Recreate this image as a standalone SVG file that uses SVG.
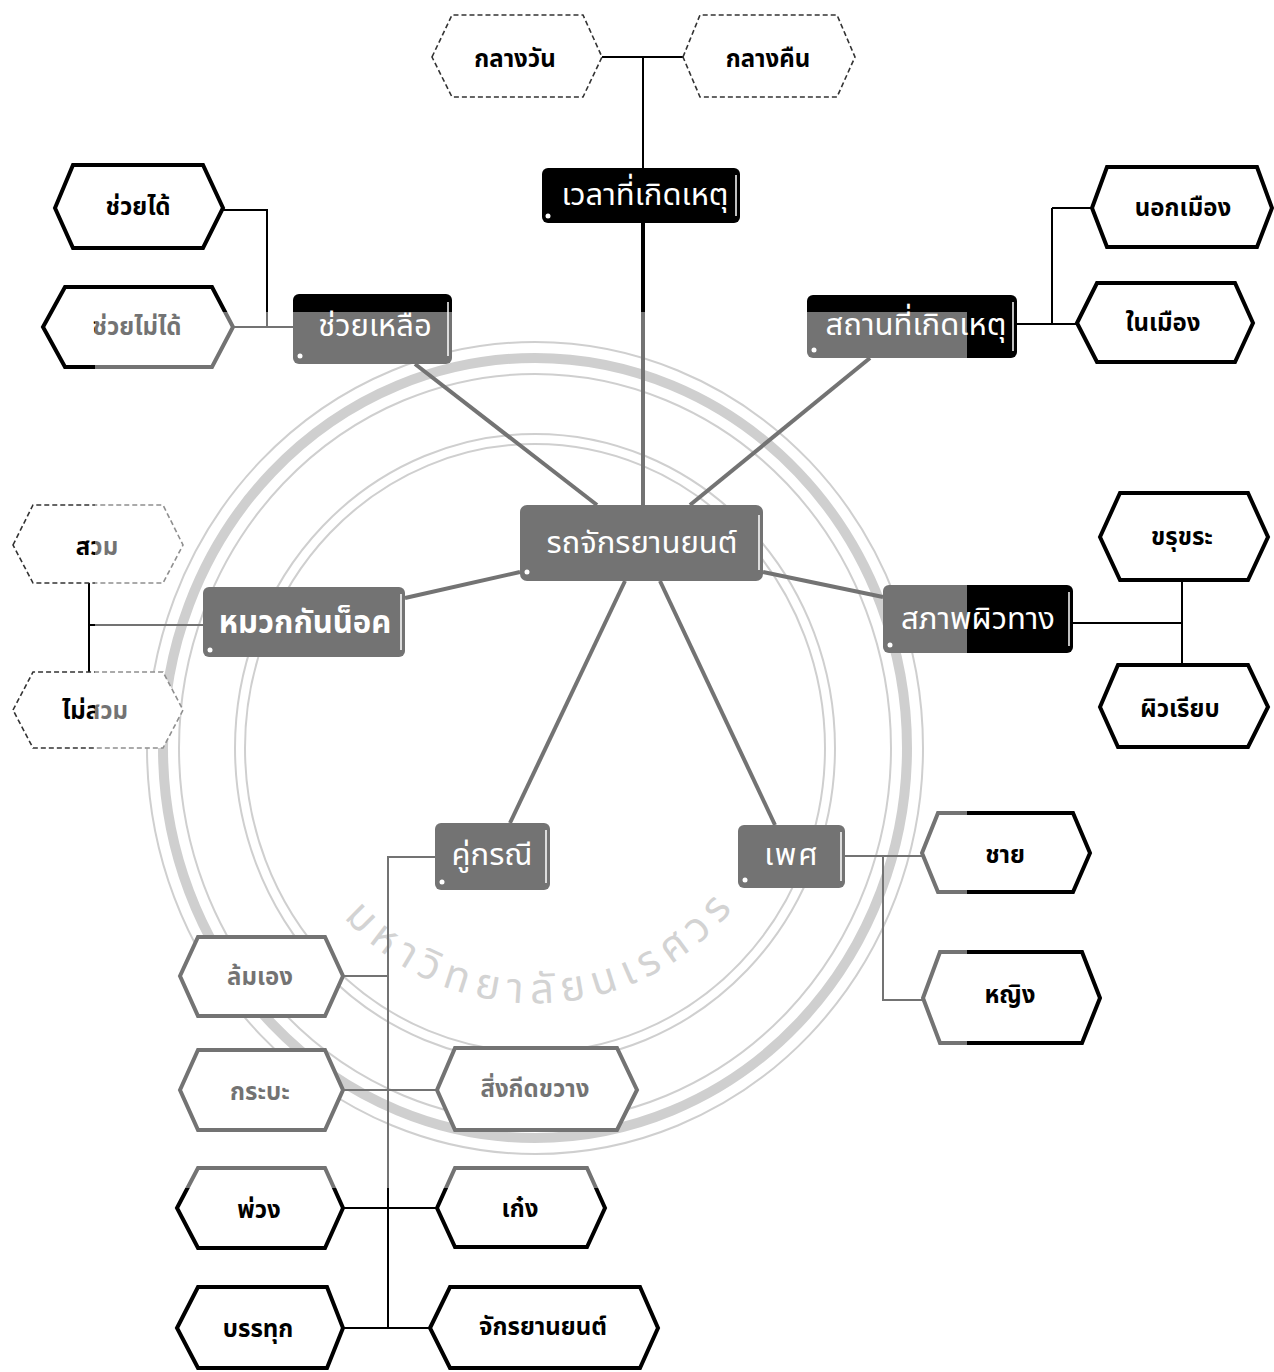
<svg xmlns="http://www.w3.org/2000/svg" width="1274" height="1372" viewBox="0 0 1274 1372">
<defs>
<style>
.leaf polygon{fill:#fff;stroke:#000;stroke-width:4;stroke-linejoin:miter}
.leaf.faint polygon{stroke:#333;stroke-width:1.6;stroke-dasharray:5 3}
.leaf text{font-family:'Noto Sans Thai','Noto Sans',sans-serif;font-weight:bold;font-size:24px;fill:#000;text-anchor:middle;dominant-baseline:central}
.branch rect.box{fill:#000}
.branch text{font-family:'Noto Sans Thai','Noto Sans',sans-serif;font-size:31px;fill:#fff;text-anchor:middle;dominant-baseline:central}
.branch .hl{stroke:#fff;stroke-width:1.5}
.branch .dot{fill:#fff}
.thick{stroke:#000;stroke-width:4;fill:none}
.thin{stroke:#000;stroke-width:2;fill:none}
.seal{fill:none;stroke:#a8a8a8}
.sealtext{font-family:'Noto Sans Thai','Noto Sans',sans-serif;font-size:42px;fill:#b0b0b0;letter-spacing:8px}
</style>
<path id="sealArc" d="M289,816 A255,255 0 0,0 785,798"/>
</defs>
<rect width="1274" height="1372" fill="#fff"/>

<g id="seal">
<ellipse class="seal" cx="535" cy="748" rx="388" ry="406" stroke-width="2"/>
<ellipse class="seal" cx="535" cy="748" rx="372" ry="390" stroke-width="10"/>
<ellipse class="seal" cx="535" cy="748" rx="356" ry="374" stroke-width="2"/>
<ellipse class="seal" cx="535" cy="748" rx="300" ry="314" stroke-width="2"/>
<ellipse class="seal" cx="535" cy="748" rx="290" ry="304" stroke-width="2"/>
<text class="sealtext"><textPath href="#sealArc" startOffset="50%" text-anchor="middle">มหาวิทยาลัยนเรศวร</textPath></text>
</g>

<g id="connectors">
<line class="thick" x1="643" y1="223" x2="643" y2="505"/>
<line class="thick" x1="415" y1="364" x2="597" y2="505"/>
<line class="thick" x1="870" y1="358" x2="690" y2="505"/>
<line class="thick" x1="405" y1="598" x2="520" y2="572"/>
<line class="thick" x1="763" y1="572" x2="883" y2="597"/>
<line class="thick" x1="625" y1="581" x2="510" y2="823"/>
<line class="thick" x1="660" y1="581" x2="775" y2="825"/>
<path class="thin" d="M602,57 H683 M643,57 V168"/>
<path class="thin" d="M223,210 H267 V327 M233,327 H293"/>
<path class="thin" d="M1017,324 H1077 M1052,208 V324 M1052,208 H1092"/>
<path class="thin" d="M89,583 V672 M89,625 H203"/>
<path class="thin" d="M1073,623 H1182 M1182,580 V665"/>
<path class="thin" d="M435,857 H388 V1328 M343,976 H388 M343,1090 H437 M343,1208 H437 M343,1328 H430"/>
<path class="thin" d="M845,856 H922 M883,856 V1000 H923"/>
</g>

<g id="n-center" class="branch">
<rect class="box" x="520" y="505" width="243" height="76" rx="7"/>
<line class="hl" x1="759" y1="515" x2="759" y2="570"/>
<circle class="dot" cx="527" cy="572" r="2.5"/>
<text x="642" y="543" font-size="34">รถจักรยานยนต์</text>
</g>
<g id="n-time" class="branch">
<rect class="box" x="542" y="168" width="198" height="55" rx="6"/>
<line class="hl" x1="736" y1="175" x2="736" y2="216"/>
<circle class="dot" cx="548" cy="216" r="2.5"/>
<text x="645" y="195" font-size="34">เวลาที่เกิดเหตุ</text>
</g>
<g id="n-help" class="branch">
<rect class="box" x="293" y="294" width="159" height="70" rx="6"/>
<line class="hl" x1="448" y1="302" x2="448" y2="356"/>
<circle class="dot" cx="300" cy="356" r="2.5"/>
<text x="375" y="326" font-size="34">ช่วยเหลือ</text>
</g>
<g id="n-place" class="branch">
<rect class="box" x="807" y="295" width="210" height="63" rx="6"/>
<line class="hl" x1="1013" y1="302" x2="1013" y2="351"/>
<circle class="dot" cx="814" cy="350" r="2.5"/>
<text x="916" y="325" font-size="34">สถานที่เกิดเหตุ</text>
</g>
<g id="n-helmet" class="branch">
<rect class="box" x="203" y="587" width="202" height="70" rx="6"/>
<line class="hl" x1="401" y1="594" x2="401" y2="650"/>
<circle class="dot" cx="210" cy="650" r="2.5"/>
<text x="305" y="623" font-size="27" font-weight="bold">หมวกกันน็อค</text>
</g>
<g id="n-road" class="branch">
<rect class="box" x="883" y="585" width="190" height="68" rx="6"/>
<line class="hl" x1="1069" y1="592" x2="1069" y2="646"/>
<circle class="dot" cx="890" cy="645" r="2.5"/>
<text x="978" y="619" font-size="32">สภาพผิวทาง</text>
</g>
<g id="n-party" class="branch">
<rect class="box" x="435" y="823" width="115" height="67" rx="6"/>
<line class="hl" x1="546" y1="830" x2="546" y2="883"/>
<circle class="dot" cx="442" cy="882" r="2.5"/>
<text x="492" y="855" font-size="29">คู่กรณี</text>
</g>
<g id="n-sex" class="branch">
<rect class="box" x="738" y="825" width="107" height="63" rx="6"/>
<line class="hl" x1="841" y1="832" x2="841" y2="881"/>
<circle class="dot" cx="745" cy="880" r="2.5"/>
<text x="792" y="855" font-size="32" letter-spacing="2">เพศ</text>
</g>

<g id="l-day" class="leaf faint"><polygon points="432,57 452,15 583,15 602,57 583,97 452,97"/><text x="515" y="60">กลางวัน</text></g>
<g id="l-night" class="leaf faint"><polygon points="683,57 700,15 837,15 855,57 837,97 700,97"/><text x="768" y="60">กลางคืน</text></g>
<g id="l-can" class="leaf"><polygon points="55,208 73,165 203,165 223,208 203,248 73,248"/><text x="138" y="208">ช่วยได้</text></g>
<g id="l-cannot" class="leaf"><polygon points="43,327 65,287 212,287 233,327 212,367 65,367"/><text x="137" y="328">ช่วยไม่ได้</text></g>
<g id="l-out" class="leaf"><polygon points="1092,208 1107,167 1257,167 1272,208 1257,247 1107,247"/><text x="1183" y="209">นอกเมือง</text></g>
<g id="l-in" class="leaf"><polygon points="1077,323 1097,283 1235,283 1253,323 1235,362 1097,362"/><text x="1163" y="324">ในเมือง</text></g>
<g id="l-wear" class="leaf faint"><polygon points="13,545 33,505 163,505 183,545 163,583 33,583"/><text x="97" y="548">สวม</text></g>
<g id="l-nowear" class="leaf faint"><polygon points="13,710 33,672 163,672 183,710 163,748 33,748"/><text x="95" y="712">ไม่สวม</text></g>
<g id="l-rough" class="leaf"><polygon points="1100,537 1120,493 1248,493 1268,537 1248,580 1120,580"/><text x="1182" y="538">ขรุขระ</text></g>
<g id="l-smooth" class="leaf"><polygon points="1100,707 1118,665 1248,665 1268,707 1248,747 1118,747"/><text x="1180" y="710">ผิวเรียบ</text></g>
<g id="l-male" class="leaf"><polygon points="922,853 938,813 1073,813 1090,853 1073,892 938,892"/><text x="1005" y="856">ชาย</text></g>
<g id="l-female" class="leaf"><polygon points="923,998 940,952 1082,952 1100,998 1082,1043 940,1043"/><text x="1010" y="996">หญิง</text></g>
<g id="l-self" class="leaf"><polygon points="180,976 198,937 325,937 343,976 325,1016 198,1016"/><text x="260" y="978">ล้มเอง</text></g>
<g id="l-pickup" class="leaf"><polygon points="180,1090 198,1050 325,1050 343,1090 325,1130 198,1130"/><text x="260" y="1093">กระบะ</text></g>
<g id="l-obstacle" class="leaf"><polygon points="437,1090 455,1048 617,1048 637,1090 617,1130 455,1130"/><text x="535" y="1090">สิ่งกีดขวาง</text></g>
<g id="l-trailer" class="leaf"><polygon points="177,1208 198,1168 325,1168 343,1208 325,1248 198,1248"/><text x="259" y="1211">พ่วง</text></g>
<g id="l-car" class="leaf"><polygon points="437,1208 455,1168 587,1168 605,1208 587,1247 455,1247"/><text x="520" y="1210">เก๋ง</text></g>
<g id="l-truck" class="leaf"><polygon points="177,1328 198,1287 327,1287 343,1328 327,1368 198,1368"/><text x="258" y="1330">บรรทุก</text></g>
<g id="l-moto" class="leaf"><polygon points="430,1328 450,1287 640,1287 658,1328 640,1368 450,1368"/><text x="543" y="1328">จักรยานยนต์</text></g>

<rect id="watermark" x="95" y="312" width="872" height="876" fill="#fff" fill-opacity="0.45"/>
</svg>
